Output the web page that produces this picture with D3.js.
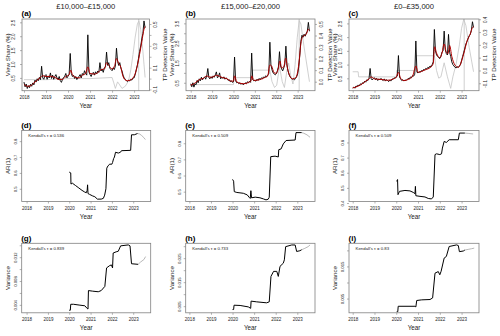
<!DOCTYPE html>
<html><head><meta charset="utf-8">
<script src="https://cdn.jsdelivr.net/npm/d3@7"></script>
<style>body{margin:0;background:#fff}svg{display:block}</style>
</head><body><svg id="c" width="500" height="336"></svg>
<script>
// ---------------- DATA ----------------
const years = [2018, 2019, 2020, 2021, 2022, 2023];
const titles = ["£10,000–£15,000", "£15,000–£20,000", "£0–£35,000"];
const letters = ["(a)", "(b)", "(c)", "(d)", "(e)", "(f)", "(g)", "(h)", "(i)"];
const kendall = ["Kendall's τ = 0.536", "Kendall's τ = 0.509", "Kendall's τ = 0.509",
                 "Kendall's τ = 0.839", "Kendall's τ = 0.733", "Kendall's τ = 0.83"];

// view share, sampled every 1/20 year starting 2018.0
const viewStart = 2018, viewStep = 0.05;
const viewA = [0.35,0.18,0.28,0.12,0.22,0.15,0.27,0.2,0.32,0.25,0.42,0.35,0.47,0.4,0.52,0.44,0.92,0.5,0.45,0.58,
  0.62,0.45,0.56,0.5,0.68,0.48,0.6,0.45,0.55,0.62,0.5,0.44,0.55,0.4,0.34,0.45,0.52,0.56,0.66,0.5,
  0.56,0.62,1.38,0.66,0.55,0.6,0.48,0.55,0.44,0.5,0.56,0.62,0.5,0.66,0.6,0.76,0.66,0.6,2.05,0.72,
  0.62,0.55,0.66,0.7,0.6,0.72,0.64,0.75,0.7,1.05,0.75,0.82,0.7,0.86,0.9,1.43,0.95,1.05,0.85,0.8,
  0.76,0.86,0.8,0.92,1.57,1.1,0.95,1.05,0.85,0.75,0.6,0.5,0.45,0.4,0.37,0.42,0.39,0.45,0.42,0.5,
  0.5,0.62,0.8,0.96,1.2,1.45,1.65,1.9,2.1,2.55,2.3];
const viewB = [0.45,0.3,0.5,0.28,0.45,0.4,0.62,0.5,0.7,0.6,0.78,0.65,0.72,0.8,0.68,0.85,1.22,0.75,0.7,0.8,
  0.72,0.85,0.78,0.9,1.05,0.75,0.82,1.0,0.7,0.78,0.72,0.8,0.68,0.75,0.7,0.62,0.66,0.55,0.6,0.52,
  0.55,1.8,0.6,0.5,0.52,0.45,0.5,0.42,0.48,0.4,0.45,0.5,0.45,0.55,0.5,0.58,0.52,2.0,0.65,0.6,
  0.62,0.58,0.68,0.62,0.72,0.66,0.75,0.7,0.8,0.74,0.85,0.8,0.9,0.95,2.55,1.4,1.15,1.0,0.95,0.9,
  0.95,1.1,1.3,2.07,1.35,1.2,1.1,1.25,1.45,2.35,1.4,1.1,0.9,0.8,0.72,0.68,0.7,0.65,0.72,0.8,
  0.95,1.3,1.9,2.6,2.9,2.8,2.95,2.85,3.0,3.1,3.55,3.1];
const viewC = [0.15,0.18,0.14,0.22,0.2,0.26,0.22,0.3,0.27,0.34,0.32,0.4,0.36,0.45,0.42,0.5,0.86,0.48,0.44,0.5,
  0.52,0.45,0.5,0.42,0.48,0.44,0.5,0.45,0.42,0.48,0.4,0.45,0.42,0.38,0.44,0.4,0.46,0.48,0.52,0.5,
  0.55,0.58,1.33,0.55,0.48,0.42,0.45,0.4,0.44,0.42,0.46,0.5,0.48,0.55,0.52,0.6,0.58,0.65,1.86,0.72,
  0.7,0.74,0.72,0.78,0.76,0.82,0.8,0.86,0.84,0.9,0.88,0.95,0.92,1.0,1.1,2.28,1.5,1.35,1.3,1.25,
  1.22,1.3,1.45,1.5,2.22,1.55,1.4,1.35,2.1,1.45,1.3,1.1,1.0,0.95,0.9,0.88,0.92,0.9,0.95,1.0,
  1.15,1.3,1.45,1.6,1.75,1.85,1.95,2.05,2.1,2.25,2.56,2.35];

// smoothed trend (red)
const smoothA = [[2018.0,0.27],[2018.15,0.2],[2018.3,0.22],[2018.45,0.32],[2018.6,0.42],[2018.75,0.52],[2018.85,0.58],[2019.0,0.55],[2019.2,0.56],[2019.4,0.52],[2019.6,0.44],[2019.75,0.45],[2019.9,0.55],[2020.05,0.62],[2020.12,0.78],[2020.2,0.62],[2020.35,0.52],[2020.5,0.5],[2020.65,0.6],[2020.8,0.66],[2020.9,0.9],[2021.0,0.66],[2021.2,0.64],[2021.4,0.72],[2021.5,0.8],[2021.65,0.82],[2021.75,1.05],[2021.85,0.95],[2022.0,0.82],[2022.12,0.95],[2022.2,1.2],[2022.3,1.02],[2022.4,0.88],[2022.48,0.6],[2022.58,0.44],[2022.7,0.4],[2022.85,0.43],[2022.95,0.5],[2023.05,0.65],[2023.15,0.95],[2023.25,1.35],[2023.35,1.8],[2023.45,2.25],[2023.5,2.35]];
const smoothB = [[2018.0,0.38],[2018.15,0.45],[2018.3,0.58],[2018.45,0.68],[2018.6,0.73],[2018.75,0.85],[2018.9,0.78],[2019.05,0.8],[2019.2,0.88],[2019.35,0.82],[2019.5,0.76],[2019.7,0.7],[2019.85,0.6],[2020.0,0.58],[2020.05,0.85],[2020.15,0.55],[2020.3,0.48],[2020.5,0.45],[2020.7,0.52],[2020.82,0.6],[2020.85,0.85],[2020.95,0.62],[2021.2,0.65],[2021.45,0.76],[2021.6,0.85],[2021.7,1.4],[2021.78,1.35],[2021.9,1.0],[2022.0,0.98],[2022.1,1.25],[2022.17,1.6],[2022.25,1.25],[2022.35,1.3],[2022.44,1.75],[2022.52,1.25],[2022.62,0.88],[2022.75,0.7],[2022.9,0.75],[2023.0,1.05],[2023.08,1.7],[2023.15,2.5],[2023.25,2.85],[2023.4,2.95],[2023.5,3.2],[2023.55,3.15]];
const smoothC = [[2018.0,0.15],[2018.2,0.2],[2018.4,0.28],[2018.6,0.4],[2018.75,0.48],[2018.85,0.55],[2019.0,0.48],[2019.3,0.46],[2019.6,0.43],[2019.85,0.47],[2020.0,0.55],[2020.1,0.72],[2020.2,0.5],[2020.35,0.42],[2020.55,0.46],[2020.75,0.58],[2020.9,0.95],[2021.0,0.72],[2021.3,0.8],[2021.6,0.92],[2021.7,1.05],[2021.76,1.65],[2021.85,1.42],[2022.0,1.25],[2022.1,1.42],[2022.2,1.75],[2022.3,1.45],[2022.38,1.4],[2022.45,1.7],[2022.55,1.3],[2022.7,0.98],[2022.85,0.9],[2022.95,1.02],[2023.1,1.4],[2023.25,1.85],[2023.4,2.12],[2023.5,2.35],[2023.55,2.38]];

// TP detection value (grey, right axis)
const tpA = [[2018.0,-0.01],[2019.0,-0.01],[2020.0,0.0],[2021.0,0.0],[2022.0,0.01],[2022.08,-0.04],[2022.15,-0.09],[2022.25,-0.03],[2022.32,-0.05],[2022.45,-0.09],[2022.6,-0.07],[2022.75,-0.02],[2022.85,0.08],[2022.95,0.22],[2023.05,0.38],[2023.15,0.5],[2023.22,0.53],[2023.3,0.45],[2023.4,0.25],[2023.5,0.01]];
const tpB = [[2018.0,-0.025],[2020.0,-0.025],[2020.02,0.035],[2020.87,0.035],[2020.89,0.1],[2021.7,0.1],[2021.8,0.0],[2021.92,-0.05],[2022.02,-0.03],[2022.15,0.13],[2022.28,0.0],[2022.38,-0.05],[2022.5,0.1],[2022.58,0.16],[2022.68,0.05],[2022.78,-0.02],[2022.88,0.15],[2022.98,0.38],[2023.07,0.53],[2023.15,0.5],[2023.3,0.3],[2023.55,0.0]];
const tpC = [[2018.0,-0.01],[2018.25,-0.01],[2018.27,-0.05],[2020.0,-0.05],[2020.02,0.0],[2020.88,0.0],[2020.9,0.115],[2021.75,0.115],[2021.85,0.0],[2021.95,-0.06],[2022.05,-0.05],[2022.2,0.06],[2022.35,-0.05],[2022.5,-0.14],[2022.6,-0.05],[2022.75,0.05],[2022.9,0.2],[2023.0,0.33],[2023.1,0.4],[2023.2,0.35],[2023.35,0.18],[2023.55,-0.01]];
const tpDates = [2023.21, 2023.07, 2023.12];

// tick values and labels
const leftTicksTop = [[0.5,1,1.5,2,2.5],[0.5,1,1.5,2,2.5,3,3.5],[0.5,1,1.5,2,2.5]];
const leftLabelsTop = [["0.5","1.0","1.5","2.0","2.5"],["0.5","","1.5","","2.5","","3.5"],["0.5","1.0","1.5","2.0","2.5"]];
const rightTicksTop = [[-0.1,0,0.1,0.2,0.3,0.4,0.5],[0,0.1,0.2,0.3,0.4,0.5],[-0.1,0,0.1,0.2,0.3,0.4]];
const rightLabelsTop = [["-0.1","","0.1","","0.3","","0.5"],["0.0","0.1","0.2","0.3","0.4","0.5"],["-0.1","0.0","0.1","0.2","0.3","0.4"]];

// AR(1) indicators
const arD = [[2020.0,0.605],[2020.07,0.6],[2020.08,0.53],[2020.15,0.535],[2020.3,0.52],[2020.45,0.505],[2020.6,0.49],[2020.72,0.48],[2020.8,0.475],[2020.84,0.49],[2020.86,0.525],[2020.88,0.47],[2020.95,0.465],[2021.1,0.455],[2021.2,0.45],[2021.32,0.435],[2021.5,0.435],[2021.6,0.44],[2021.66,0.46],[2021.72,0.5],[2021.76,0.63],[2021.82,0.645],[2021.9,0.655],[2022.0,0.655],[2022.03,0.665],[2022.08,0.69],[2022.12,0.7],[2022.17,0.73],[2022.3,0.725],[2022.4,0.73],[2022.45,0.74],[2022.88,0.742],[2022.92,0.84],[2023.05,0.84],[2023.2,0.848]];
const arDTail = [[2023.2,0.848],[2023.3,0.845],[2023.4,0.835],[2023.5,0.822],[2023.57,0.81]];
const arE = [[2020.0,0.576],[2020.05,0.565],[2020.08,0.5],[2020.2,0.495],[2020.5,0.49],[2020.68,0.48],[2020.77,0.465],[2020.82,0.458],[2020.85,0.506],[2020.88,0.462],[2021.05,0.466],[2021.27,0.462],[2021.43,0.455],[2021.55,0.449],[2021.65,0.453],[2021.7,0.465],[2021.77,0.717],[2021.97,0.72],[2022.12,0.715],[2022.14,0.76],[2022.25,0.765],[2022.35,0.796],[2022.48,0.817],[2022.9,0.82],[2022.94,0.866],[2023.2,0.866]];
const arETail = [[2023.2,0.866],[2023.3,0.862],[2023.45,0.852],[2023.59,0.837]];
const arF = [[2020.02,0.543],[2020.06,0.555],[2020.08,0.455],[2020.15,0.477],[2020.4,0.483],[2020.63,0.48],[2020.78,0.47],[2020.86,0.462],[2020.88,0.51],[2020.9,0.448],[2021.09,0.444],[2021.32,0.44],[2021.47,0.43],[2021.62,0.427],[2021.7,0.44],[2021.78,0.72],[2021.85,0.725],[2022.0,0.72],[2022.08,0.725],[2022.12,0.763],[2022.2,0.807],[2022.3,0.8],[2022.43,0.818],[2022.85,0.818],[2022.9,0.862],[2023.15,0.862]];
const arFTail = [[2023.15,0.862],[2023.3,0.86],[2023.53,0.856]];

// variance indicators
const varG = [[2020.0,0.0031],[2020.05,0.0031],[2020.07,0.0041],[2020.2,0.0041],[2020.5,0.00395],[2020.73,0.00385],[2020.84,0.0034],[2020.88,0.0033],[2020.9,0.0064],[2021.1,0.0063],[2021.36,0.0062],[2021.5,0.0064],[2021.67,0.0071],[2021.75,0.0102],[2021.9,0.0106],[2021.98,0.0107],[2022.03,0.0102],[2022.06,0.0127],[2022.2,0.0129],[2022.3,0.013],[2022.41,0.0139],[2022.77,0.01406],[2022.85,0.0139],[2022.92,0.0109],[2023.23,0.0108]];
const varGTail = [[2023.23,0.0108],[2023.35,0.0112],[2023.5,0.0116],[2023.58,0.0121]];
const varH = [[2020.0,0.0036],[2020.05,0.0036],[2020.07,0.0054],[2020.35,0.0053],[2020.73,0.0047],[2020.84,0.0041],[2020.86,0.0071],[2021.12,0.0068],[2021.58,0.0064],[2021.7,0.0068],[2021.78,0.0174],[2021.9,0.0195],[2022.05,0.0195],[2022.12,0.0174],[2022.2,0.0216],[2022.35,0.0229],[2022.4,0.0243],[2022.46,0.0298],[2022.74,0.0305],[2022.9,0.0305],[2022.97,0.0278],[2023.12,0.0281],[2023.2,0.0285]];
const varHTail = [[2023.2,0.0285],[2023.35,0.0291],[2023.5,0.0298],[2023.59,0.0305]];
const varI = [[2020.02,0.0009],[2020.07,0.0009],[2020.09,0.0026],[2020.86,0.0026],[2020.9,0.0024],[2020.94,0.0044],[2021.17,0.0046],[2021.55,0.0047],[2021.67,0.0052],[2021.78,0.0129],[2021.93,0.0134],[2022.0,0.0124],[2022.06,0.0135],[2022.2,0.0176],[2022.3,0.0181],[2022.43,0.0212],[2022.77,0.0217],[2022.85,0.0215],[2022.9,0.0196],[2023.08,0.0198],[2023.15,0.0201]];
const varITail = [[2023.15,0.0201],[2023.3,0.0203],[2023.45,0.0205],[2023.58,0.0207]];

const arTicks = [[0.5,0.6,0.7,0.8],[0.5,0.6,0.7,0.8],[0.4,0.5,0.6,0.7,0.8]];
const arLabels = [["0.5","0.6","0.7","0.8"],["0.5","0.6","0.7","0.8"],["0.4","0.5","0.6","0.7","0.8"]];
const varTicks = [[0.004,0.006,0.008,0.010,0.012,0.014],[0.005,0.010,0.015,0.020,0.025,0.030],[0.005,0.010,0.015,0.020]];
const varLabels = [["0.004","","0.008","","0.012",""],["0.005","","0.015","","0.025",""],["0.005","","0.015",""]];

// ---------------- LAYOUT ----------------
const FONT = '"Liberation Sans", Arial, Helvetica, sans-serif';
const BOXC = "#808080";
const TXT = "#1a1a1a";
const topLayout = [
  {box:[22,19,149.5,90.7], xd:[2017.91,2023.70], yl:[0.04,2.62], yr:[-0.111,0.546]},
  {box:[186,19,315,90.7], xd:[2017.78,2023.81], yl:[0.10,3.72], yr:[-0.078,0.543]},
  {box:[349,19,479,90.7], xd:[2017.83,2023.80], yl:[0.05,2.66], yr:[-0.158,0.402]}
];
const midLayout = [
  {box:[21.7,130.5,150.7,201.5], xd:[2017.77,2023.82], yd:[0.42,0.867]},
  {box:[185.7,130.5,315,201.5], xd:[2017.83,2023.82], yd:[0.439,0.879]},
  {box:[349,130.5,479,201.5], xd:[2017.83,2023.80], yd:[0.41,0.879]}
];
const botLayout = [
  {box:[21.7,243.3,150.7,312.8], xd:[2017.77,2023.82], yd:[0.00267,0.01433]},
  {box:[185.7,243.3,315,312.8], xd:[2017.83,2023.82], yd:[0.00224,0.0312]},
  {box:[349,243.3,479,312.8], xd:[2017.83,2023.80], yd:[0.00057,0.0222]}
];

const svg = d3.select("#c");
svg.append("rect").attr("width",500).attr("height",336).attr("fill","#fff");

function drawBox(g, b) {
  g.append("rect").attr("x",b[0]).attr("y",b[1]).attr("width",b[2]-b[0]).attr("height",b[3]-b[1])
    .attr("fill","none").attr("stroke",BOXC).attr("stroke-width",0.8);
}
function xAxis(g, x, b) {
  const a = g.append("g").attr("transform",`translate(0,${b[3]})`)
    .call(d3.axisBottom(x).tickValues(years).tickSize(2).tickFormat(d3.format("d")));
  a.select(".domain").remove();
  a.selectAll("line").attr("stroke",BOXC).attr("stroke-width",0.6);
  a.selectAll("text").attr("y",8.2).attr("dy",null).attr("font-size",4.5).attr("fill",TXT).attr("font-family",FONT);
  g.append("text").attr("x",(b[0]+b[2])/2).attr("y",b[3]+17.6).attr("text-anchor","middle")
    .attr("font-size",6.3).attr("font-family",FONT).attr("fill",TXT).text("Year");
}
function yAxis(g, y, xPos, ticks, labels, right, labOff, fs) {
  const gen = (right ? d3.axisRight(y) : d3.axisLeft(y)).tickValues(ticks).tickSize(2).tickFormat((d,i)=>labels[i]);
  const a = g.append("g").attr("transform",`translate(${xPos},0)`).call(gen);
  a.select(".domain").remove();
  a.selectAll("line").attr("stroke",BOXC).attr("stroke-width",0.6);
  a.selectAll("text").attr("x",null).attr("dy",null).attr("text-anchor","middle")
    .attr("transform",`translate(${labOff},0) rotate(-90)`)
    .attr("font-size",fs).attr("fill",TXT).attr("font-family",FONT);
}
function vLabel(g, x, y, txt, fs) {
  g.append("text").attr("transform",`translate(${x},${y}) rotate(-90)`).attr("text-anchor","middle")
    .attr("font-size",fs).attr("font-family",FONT).attr("fill",TXT).text(txt);
}
function letter(g, b, t) {
  g.append("text").attr("x",b[0]-0.5).attr("y",b[1]-2.8).attr("font-size",8).attr("font-weight","bold")
    .attr("font-family",FONT).attr("fill","#000").text(t);
}

// ---------------- TOP ROW ----------------
const views = [viewA, viewB, viewC];
const smooths = [smoothA, smoothB, smoothC];
const tps = [tpA, tpB, tpC];
topLayout.forEach((L, k) => {
  const b = L.box;
  const g = svg.append("g");
  const x = d3.scaleLinear().domain(L.xd).range([b[0], b[2]]);
  const yl = d3.scaleLinear().domain(L.yl).range([b[3], b[1]]);
  const yr = d3.scaleLinear().domain(L.yr).range([b[3], b[1]]);
  g.append("path").datum(tps[k]).attr("fill","none").attr("stroke","#c4c4c4").attr("stroke-width",0.8)
    .attr("d", d3.line().x(d=>x(d[0])).y(d=>yr(d[1])));
  g.append("line").attr("x1",x(tpDates[k])).attr("x2",x(tpDates[k])).attr("y1",b[1]).attr("y2",b[3])
    .attr("stroke","#c4c4c4").attr("stroke-width",0.8);
  g.append("path").datum(views[k]).attr("fill","none").attr("stroke","#000").attr("stroke-width",0.9)
    .attr("stroke-linejoin","round")
    .attr("d", d3.line().x((d,i)=>x(viewStart + i*viewStep)).y(d=>yl(d)));
  g.append("path").datum(smooths[k]).attr("fill","none").attr("stroke","#b00000").attr("stroke-width",1.0)
    .attr("d", d3.line().curve(d3.curveMonotoneX).x(d=>x(d[0])).y(d=>yl(d[1])));
  drawBox(g, b);
  xAxis(g, x, b);
  yAxis(g, yl, b[0], leftTicksTop[k], leftLabelsTop[k], false, -7.1, 4.5);
  yAxis(g, yr, b[2], rightTicksTop[k], rightLabelsTop[k], true, 7.7, 4.5);
  vLabel(g, b[0]-12.4, (b[1]+b[3])/2, "View Share (%)", 6.2);
  vLabel(g, b[2]+17.2, (b[1]+b[3])/2, "TP Detection Value", 6.2);
  letter(g, b, letters[k]);
  g.append("text").attr("x",(b[0]+b[2])/2).attr("y",8.6).attr("text-anchor","middle")
    .attr("font-size",7.6).attr("font-family",FONT).attr("fill",TXT).text(titles[k]);
});

// ---------------- INDICATOR ROWS ----------------
function indicatorPanel(L, main, tail, ticks, labels, ylab, lett, ktxt) {
  const b = L.box;
  const g = svg.append("g");
  const x = d3.scaleLinear().domain(L.xd).range([b[0], b[2]]);
  const y = d3.scaleLinear().domain(L.yd).range([b[3], b[1]]);
  const line = d3.line().x(d=>x(d[0])).y(d=>y(d[1]));
  g.append("path").datum(tail).attr("fill","none").attr("stroke","#b0b0b0").attr("stroke-width",0.9).attr("d",line);
  g.append("path").datum(main).attr("fill","none").attr("stroke","#000").attr("stroke-width",1.0)
    .attr("stroke-linejoin","round").attr("d",line);
  drawBox(g, b);
  xAxis(g, x, b);
  yAxis(g, y, b[0], ticks, labels, false, -5.2, 4.2);
  vLabel(g, b[0]-11.6, (b[1]+b[3])/2, ylab, 6.2);
  letter(g, b, lett);
  g.append("text").attr("x",b[0]+6.6).attr("y",b[1]+6.7).attr("font-size",4.3)
    .attr("font-family",FONT).attr("fill",TXT).text(ktxt);
}
const arMain = [arD, arE, arF], arTail = [arDTail, arETail, arFTail];
const varMain = [varG, varH, varI], varTail = [varGTail, varHTail, varITail];
midLayout.forEach((L,k) => indicatorPanel(L, arMain[k], arTail[k], arTicks[k], arLabels[k], "AR(1)", letters[3+k], kendall[k]));
botLayout.forEach((L,k) => indicatorPanel(L, varMain[k], varTail[k], varTicks[k], varLabels[k], "Variance", letters[6+k], kendall[3+k]));
</script>
</body></html>
